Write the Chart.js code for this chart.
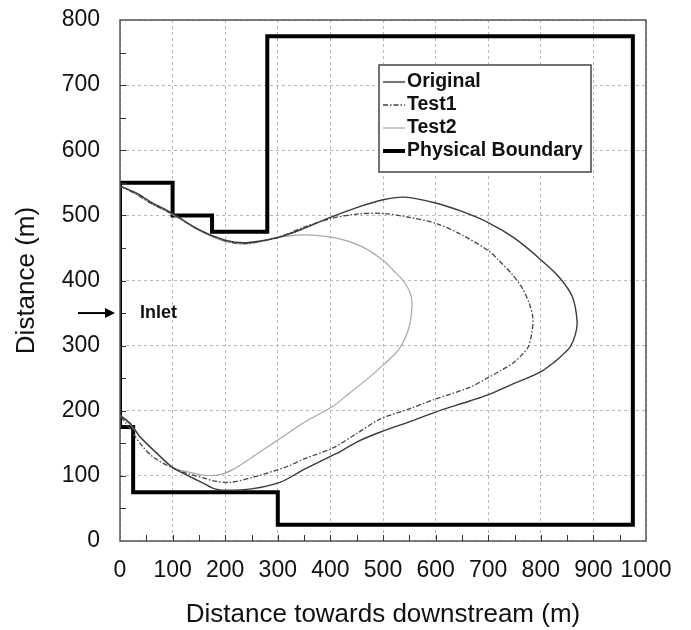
<!DOCTYPE html>
<html>
<head>
<meta charset="utf-8">
<script src="https://cdn.jsdelivr.net/npm/chart.js@4/dist/chart.umd.min.js"></script>
<style>
  body { margin: 0; background: #fff; }
  canvas { display: block; }
</style>
</head>
<body>
<canvas id="grafico" width="691" height="630"></canvas>
<script>
// contour lines (x = downstream distance, y = distance, both in m)
const originalX = [0, 30, 60, 100, 150, 200, 240, 300, 350, 400, 450, 500, 540, 600, 650, 700, 750, 800, 835, 860,
  869, 866, 856, 840, 823, 798, 741, 698, 665, 600, 550, 494, 450, 418, 400, 350, 304, 250, 203, 180,
  158, 130, 100, 70, 38, 20, 0];
const originalY = [545, 535, 520, 503, 478, 462, 458, 466, 480, 497, 512, 524, 528, 519, 506, 489, 465, 432, 405, 375,
  338, 318, 298, 285, 273, 259, 239, 224, 215, 198, 183, 167, 152, 137, 130, 110, 90, 80, 78, 80,
  89, 100, 113, 135, 160, 180, 193];

const test1X = [0, 30, 60, 100, 150, 200, 240, 300, 350, 400, 450, 500, 550, 603, 650, 700, 720, 745, 765, 778,
  785, 783, 776, 763, 747, 720, 698, 665, 600, 550, 494, 450, 405, 350, 317, 253, 209, 180, 158, 130,
  100, 63, 40, 25, 12, 0];
const test1Y = [545, 533, 518, 502, 478, 461, 457, 466, 482, 495, 502, 503, 497, 487, 470, 446, 431, 410, 388, 365,
  342, 320, 298, 285, 273, 260, 250, 236, 218, 203, 187, 165, 143, 126, 114, 98, 90, 92, 97, 103,
  112, 129, 148, 165, 180, 193];

const test2X = [0, 30, 60, 100, 150, 200, 240, 300, 350, 412, 460, 500, 520, 538, 552, 555, 548, 529, 500, 475,
  424, 405, 350, 300, 250, 215, 190, 160, 130, 100, 70, 40, 20, 0];
const test2Y = [545, 533, 518, 501, 477, 460, 456, 466, 470, 465, 452, 431, 415, 400, 380, 359, 324, 293, 270, 252,
  219, 207, 182, 155, 128, 110, 102, 101, 106, 113, 134, 158, 178, 193];

const boundaryX = [0, 0, 25, 25, 300, 300, 975, 975, 280, 280, 175, 175, 100, 100, 0];
const boundaryY = [550, 175, 175, 75, 75, 25, 25, 775, 775, 475, 475, 500, 500, 550, 550];

const seriesNames = ['Original', 'Test1', 'Test2', 'Physical Boundary'];
const inletY = 350;

const fonte = '"Liberation Sans", Arial, Helvetica, sans-serif';

function pontos(xs, ys) {
  return xs.map((x, i) => ({ x: x, y: ys[i] }));
}

// legenda dentro do grafico, arrow "Inlet", frame and minor ticks
const extras = {
  id: 'extras',
  afterDraw(chart) {
    const ctx = chart.ctx;
    const a = chart.chartArea;
    const sx = chart.scales.x;
    const sy = chart.scales.y;
    ctx.save();

    ctx.strokeStyle = '#555';
    ctx.lineWidth = 1.5;
    ctx.strokeRect(a.left, a.top, a.right - a.left, a.bottom - a.top);

    ctx.beginPath();
    for (let v = 50; v < 1000; v += 50) {
      const px = Math.round(sx.getPixelForValue(v)) + 0.5;
      ctx.moveTo(px, a.bottom);
      ctx.lineTo(px, a.bottom - 6);
    }
    for (let v = 50; v < 800; v += 50) {
      const py = Math.round(sy.getPixelForValue(v)) + 0.5;
      ctx.moveTo(a.left, py);
      ctx.lineTo(a.left + 6, py);
    }
    ctx.strokeStyle = '#333';
    ctx.lineWidth = 1;
    ctx.stroke();

    // Inlet
    const yi = sy.getPixelForValue(inletY);
    ctx.beginPath();
    ctx.moveTo(a.left - 42, yi);
    ctx.lineTo(a.left - 12, yi);
    ctx.strokeStyle = '#000';
    ctx.lineWidth = 2;
    ctx.stroke();
    ctx.beginPath();
    ctx.moveTo(a.left - 5, yi);
    ctx.lineTo(a.left - 15, yi - 5);
    ctx.lineTo(a.left - 15, yi + 5);
    ctx.closePath();
    ctx.fillStyle = '#000';
    ctx.fill();
    ctx.font = 'bold 18px ' + fonte;
    ctx.textBaseline = 'middle';
    ctx.textAlign = 'left';
    ctx.fillStyle = '#111';
    ctx.fillText('Inlet', a.left + 20, yi);

    // legend box
    const lx = a.left + 259, ly = a.top + 45, lw = 212, lh = 107;
    ctx.fillStyle = '#fff';
    ctx.fillRect(lx, ly, lw, lh);
    ctx.strokeStyle = '#444';
    ctx.lineWidth = 1.5;
    ctx.strokeRect(lx, ly, lw, lh);
    ctx.font = 'bold 19.5px ' + fonte;
    chart.data.datasets.forEach((ds, i) => {
      const yy = ly + 17 + i * 23;
      ctx.beginPath();
      ctx.setLineDash(ds.borderDash || []);
      ctx.moveTo(lx + 4, yy);
      ctx.lineTo(lx + 26, yy);
      ctx.strokeStyle = ds.borderColor;
      ctx.lineWidth = ds.borderWidth;
      ctx.stroke();
      ctx.setLineDash([]);
      ctx.fillStyle = '#111';
      ctx.fillText(ds.label, lx + 28, yy);
    });
    ctx.restore();
  }
};

const eixoX = {
  type: 'linear',
  min: 0,
  max: 1000,
  ticks: { stepSize: 100, autoSkip: false, maxRotation: 0, padding: 16, color: '#111',
    font: { family: fonte, size: 23 }, callback: v => String(v) },
  grid: { color: '#b8b8b8', lineWidth: 1, drawTicks: false },
  border: { display: false, dash: [3, 3] },
  title: { display: true, text: 'Distance towards downstream (m)', color: '#111',
    font: { family: fonte, size: 26, lineHeight: 1 }, padding: { top: 0, bottom: 2 } },
  afterFit(s) { s.height = 89; }
};

// tick padding would push the plot top down, so the gap comes from an invisible tick mark
const eixoY = {
  type: 'linear',
  min: 0,
  max: 800,
  ticks: { stepSize: 100, padding: 0, color: '#111', font: { family: fonte, size: 23 }, callback: v => String(v) },
  grid: { color: '#b8b8b8', lineWidth: 1, drawTicks: true, tickLength: 20, tickColor: 'rgba(0,0,0,0)' },
  border: { display: false, dash: [3, 3] },
  title: { display: true, text: 'Distance (m)', color: '#111',
    font: { family: fonte, size: 26, lineHeight: 1 }, padding: { top: 14, bottom: 0 } },
  afterFit(s) { s.width = 120; }
};

new Chart(document.getElementById('grafico'), {
  type: 'scatter',
  data: {
    datasets: [
      { label: seriesNames[0], data: pontos(originalX, originalY), showLine: true, tension: 0.3,
        borderColor: '#3a3a3a', borderWidth: 1.4, pointRadius: 0 },
      { label: seriesNames[1], data: pontos(test1X, test1Y), showLine: true, tension: 0.3,
        borderColor: '#444', borderWidth: 1.3, borderDash: [5, 2, 1.5, 2], pointRadius: 0 },
      { label: seriesNames[2], data: pontos(test2X, test2Y), showLine: true, tension: 0.3,
        borderColor: '#a8a8a8', borderWidth: 1.2, pointRadius: 0 },
      { label: seriesNames[3], data: pontos(boundaryX, boundaryY), showLine: true, tension: 0,
        borderColor: '#000', borderWidth: 4, borderJoinStyle: 'miter', pointRadius: 0 }
    ]
  },
  options: {
    responsive: false,
    animation: false,
    layout: { padding: { left: 0, right: 45, top: 20, bottom: 0 } },
    plugins: { legend: { display: false }, tooltip: { enabled: false } },
    scales: { x: eixoX, y: eixoY }
  },
  plugins: [extras]
});
</script>
</body>
</html>
